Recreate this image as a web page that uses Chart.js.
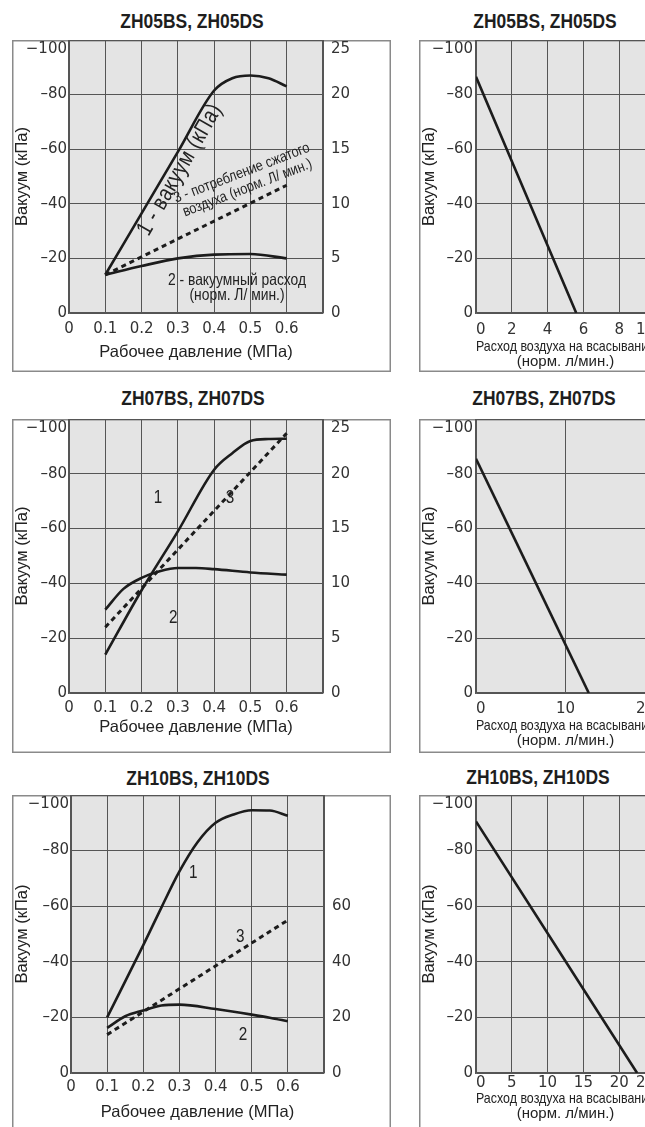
<!DOCTYPE html>
<html><head><meta charset="utf-8">
<script src="https://cdn.jsdelivr.net/npm/chart.js@4.4.0/dist/chart.umd.min.js"></script>
<style>
html,body{margin:0;padding:0;background:#fff;width:645px;height:1127px;overflow:hidden;position:relative;}
.ttl{position:absolute;width:300px;text-align:center;font:bold 21px "Liberation Sans",Arial,sans-serif;color:#1e1e1e;line-height:24px;white-space:nowrap;transform:scaleX(0.83);transform-origin:50% 50%;}
.pn{position:absolute;}
</style></head><body>
<div class="ttl" style="left:42px;top:9px">ZH05BS, ZH05DS</div>
<div class="ttl" style="left:395px;top:9px">ZH05BS, ZH05DS</div>
<div class="ttl" style="left:43px;top:386px">ZH07BS, ZH07DS</div>
<div class="ttl" style="left:394px;top:386px">ZH07BS, ZH07DS</div>
<div class="ttl" style="left:48px;top:766px">ZH10BS, ZH10DS</div>
<div class="ttl" style="left:388px;top:765px">ZH10BS, ZH10DS</div>

<div class="pn" style="left:12px;top:40px;width:379px;height:332px"><canvas id="c05a"></canvas></div>
<div class="pn" style="left:419px;top:40px;width:300px;height:332px"><canvas id="c05b"></canvas></div>
<div class="pn" style="left:12px;top:419px;width:379px;height:334px"><canvas id="c07a"></canvas></div>
<div class="pn" style="left:419px;top:419px;width:300px;height:334px"><canvas id="c07b"></canvas></div>
<div class="pn" style="left:12px;top:795px;width:379px;height:345px"><canvas id="c10a"></canvas></div>
<div class="pn" style="left:419px;top:795px;width:300px;height:345px"><canvas id="c10b"></canvas></div>

<script>
// ---------- data ----------
// ZH05BS, ZH05DS
const pVac05 = [0.1, 0.2, 0.3, 0.4, 0.45, 0.5, 0.55, 0.6];
const vac05 = [-14, -36.5, -59, -81.5, -86, -87, -86, -83];
const pFlow05 = [0.1, 0.2, 0.3, 0.4, 0.5, 0.6];
const flow05 = [3.5, 4.3, 5.0, 5.35, 5.4, 5.0];
const pCons05 = [0.1, 0.6];
const cons05 = [3.5, 11.7];
const qSuc05 = [0, 5.6];
const qVac05 = [-86.5, 0];

// ZH07BS, ZH07DS
const pVac07 = [0.1, 0.2, 0.3, 0.4, 0.45, 0.5, 0.55, 0.6];
const vac07 = [-14, -37.5, -59, -81.5, -87.5, -92, -92.7, -92.8];
const pFlow07 = [0.1, 0.15, 0.2, 0.25, 0.3, 0.35, 0.4, 0.5, 0.6];
const flow07 = [7.6, 9.5, 10.5, 11.1, 11.4, 11.4, 11.3, 11.0, 10.8];
const pCons07 = [0.1, 0.6];
const cons07 = [6.0, 23.7];
const qSuc07 = [0, 12.6];
const qVac07 = [-85.5, 0];

// ZH10BS, ZH10DS
const pVac10 = [0.1, 0.2, 0.25, 0.3, 0.35, 0.4, 0.45, 0.5, 0.55, 0.6];
const vac10 = [-20, -46, -59.5, -72.5, -83, -90, -93, -94.5, -94.4, -92.5];
const pFlow10 = [0.1, 0.15, 0.2, 0.25, 0.3, 0.4, 0.5, 0.55, 0.6];
const flow10 = [16.2, 20.4, 22.5, 24.3, 24.6, 23.0, 21.0, 19.9, 18.6];
const pCons10 = [0.1, 0.6];
const cons10 = [13.8, 55];
const qSuc10 = [0, 22.5];
const qVac10 = [-90.5, 0];

// ticks / labels
const vacTicks = [-100, -80, -60, -40, -20, 0];
const pressureTicks = [0, 0.1, 0.2, 0.3, 0.4, 0.5, 0.6];
const titleVac = 'Вакуум (кПа)';
const titlePress = 'Рабочее давление (МПа)';
const titleSuction = ['Расход воздуха на всасывание', '(норм. л/мин.)'];

// ---------- styling ----------
const SANS = '"Liberation Sans", Arial, sans-serif';
const TICKF = {family: '"DejaVu Sans", sans-serif', size: 15, lineHeight: 1.2};
const INK = '#1c1c1c';
const TXT = '#333';
const GRID = '#555';

function xy(xs, ys) { return xs.map((x, i) => ({x: x, y: ys[i]})); }
function fmtP(v) { const r = Math.round(v * 10) / 10; return r > 0.6 ? '' : (r === 0 ? '0' : r.toFixed(1)); }
function fmtVac(v) { return v === -100 ? ['', '\u2212100'] : (v === 0 ? '0' : '\u2013' + Math.abs(v)); }
function noPad(s) { s.paddingTop = 0; s.paddingBottom = 0; s.paddingLeft = 0; s.paddingRight = 0; }

const panelPlugin = {
  id: 'panel',
  beforeDraw(chart) {
    const {ctx, chartArea: a, width, height} = chart;
    ctx.save();
    ctx.fillStyle = '#e4e4e4';
    ctx.fillRect(a.left, a.top, a.right - a.left, a.bottom - a.top);
    ctx.strokeStyle = '#8a8a8a';
    ctx.lineWidth = 1.5;
    ctx.strokeRect(0.75, 0.75, width - 1.5, height - 1.5);
    ctx.restore();
  },
  afterDatasetsDraw(chart, args, opts) {
    const items = (opts && opts.notes) || [];
    const ctx = chart.ctx, sx = chart.scales.x, sy = chart.scales.y;
    items.forEach(n => {
      const px = sx.getPixelForValue(n.x), py = sy.getPixelForValue(n.y);
      ctx.save();
      ctx.translate(px, py);
      ctx.rotate((n.rot || 0) * Math.PI / 180);
      ctx.scale(n.sx || 0.85, 1);
      ctx.font = (n.size || 16) + 'px ' + SANS;
      if (n.ls) ctx.letterSpacing = n.ls + 'px';
      ctx.fillStyle = '#222';
      ctx.textAlign = 'center';
      ctx.textBaseline = 'middle';
      const lh = n.lh || 16;
      n.lines.forEach((t, i) => ctx.fillText(t, 0, (i - (n.lines.length - 1) / 2) * lh));
      ctx.restore();
    });
  }
};

function lineDs(data, axis, dashed) {
  return {data: data, yAxisID: axis, borderColor: INK, borderWidth: dashed ? 3 : 2.6,
    borderDash: dashed ? [5, 4] : [], pointRadius: 0, fill: false,
    cubicInterpolationMode: dashed ? 'default' : 'monotone', tension: 0};
}

function yAxisVac(width, pad) {
  return {
    type: 'linear', position: 'left', min: -100, max: 0, reverse: true,
    afterBuildTicks: s => { s.ticks = vacTicks.map(v => ({value: v})); },
    ticks: {callback: fmtVac, font: TICKF, color: TXT, padding: pad, autoSkip: false},
    grid: {color: GRID, lineWidth: 1, drawTicks: false},
    border: {color: GRID, width: 1.2},
    title: {display: true, text: titleVac, color: '#222', font: {family: SANS, size: 16.5, lineHeight: 1}, padding: {top: 2, bottom: 0}},
    afterFit: s => { s.width = width; noPad(s); }
  };
}

function leftChart(id, o) {
  return new Chart(document.getElementById(id), {
    type: 'line',
    data: {datasets: [
      lineDs(xy(o.pv, o.vac), 'y', false),
      lineDs(xy(o.pf, o.flow), 'y1', false),
      lineDs(xy(o.pc, o.cons), 'y1', true)
    ]},
    options: {
      responsive: true, maintainAspectRatio: false, animation: false, events: [],
      layout: {padding: 0, autoPadding: false},
      plugins: {legend: {display: false}, tooltip: {enabled: false}, panel: {notes: o.notes}},
      scales: {
        x: {
          type: 'linear', min: 0, max: 0.7,
          afterBuildTicks: s => { s.ticks = pressureTicks.concat([0.7]).map(v => ({value: v})); },
          ticks: {callback: fmtP, font: TICKF, color: TXT, padding: o.tp, autoSkip: false, maxRotation: 0},
          grid: {color: GRID, lineWidth: 1, drawTicks: false},
          border: {color: GRID, width: 1.2},
          title: {display: true, text: titlePress, color: '#222', font: {family: SANS, size: 16.5, lineHeight: 1}, padding: {top: 0, bottom: o.tb}},
          afterFit: s => { s.height = o.xh; noPad(s); }
        },
        y: yAxisVac(o.yw, 2),
        y1: {
          type: 'linear', position: 'right', min: 0, max: o.rmax,
          afterBuildTicks: s => { s.ticks = o.rticks.map(v => ({value: v})); },
          ticks: {callback: o.rfmt, font: TICKF, color: TXT, padding: 8, autoSkip: false},
          grid: {display: false, drawTicks: false},
          border: {color: GRID, width: 1.2},
          afterFit: s => { s.width = o.rw; noPad(s); }
        }
      }
    },
    plugins: [panelPlugin]
  });
}

function rightChart(id, o) {
  return new Chart(document.getElementById(id), {
    type: 'line',
    data: {datasets: [lineDs(xy(o.q, o.v), 'y', false)]},
    options: {
      responsive: true, maintainAspectRatio: false, animation: false, events: [],
      layout: {padding: {left: 0, top: 0, bottom: 0, right: 64}, autoPadding: false},
      plugins: {legend: {display: false}, tooltip: {enabled: false}},
      scales: {
        x: {
          type: 'linear', min: 0, max: o.xmax,
          afterBuildTicks: s => { s.ticks = o.xticks.map(v => ({value: v})); },
          ticks: {font: TICKF, color: TXT, padding: o.tp, align: 'inner', autoSkip: false, maxRotation: 0},
          grid: {color: GRID, lineWidth: 1, drawTicks: false},
          border: {color: GRID, width: 1.2},
          title: {display: true, text: titleSuction, color: '#222', font: {family: SANS, size: 15, lineHeight: o.tlh}, padding: {top: 0, bottom: o.tb}},
          afterFit: s => { s.height = o.xh; noPad(s); }
        },
        y: yAxisVac(57, 3)
      }
    },
    plugins: [panelPlugin]
  });
}

const rTicks25 = [0, 5, 10, 15, 20, 25];
const rTicks100 = [0, 20, 40, 60, 80, 100];
const fmt25 = v => v === 25 ? ['', '25'] : String(v);
const fmt100 = v => v <= 60 ? String(v) : '';

leftChart('c05a', {pv: pVac05, vac: vac05, pf: pFlow05, flow: flow05, pc: pCons05, cons: cons05,
  rmax: 25, rticks: rTicks25, rfmt: fmt25, yw: 57, rw: 68, xh: 59, tp: 7, tb: 11.5,
  notes: [
    {x: 0.306, y: -52.5, rot: -60, lines: ['1 - вакуум (кПа)'], size: 23, sx: 0.82, ls: 0.8},
    {x: 0.484, y: -48.5, rot: -21, lines: ['3 - потребление сжатого', 'воздуха (норм. Л/ мин.)'], size: 15, lh: 16, sx: 0.85},
    {x: 0.463, y: -9.3, rot: 0, lines: ['2 - вакуумный расход', '(норм. Л/ мин.)'], size: 16.5, lh: 15, sx: 0.84}
  ]});
rightChart('c05b', {q: qSuc05, v: qVac05, xmax: 10, xticks: [0, 2, 4, 6, 8, 10], tp: 8, tb: 2.5, tlh: 1, xh: 59});

leftChart('c07a', {pv: pVac07, vac: vac07, pf: pFlow07, flow: flow07, pc: pCons07, cons: cons07,
  rmax: 25, rticks: rTicks25, rfmt: fmt25, yw: 57, rw: 68, xh: 60, tp: 6, tb: 17.5,
  notes: [
    {x: 0.245, y: -71.3, lines: ['1'], size: 18},
    {x: 0.444, y: -71.3, lines: ['3'], size: 18},
    {x: 0.287, y: -27.3, lines: ['2'], size: 18}
  ]});
rightChart('c07b', {q: qSuc07, v: qVac07, xmax: 20, xticks: [0, 10, 20], tp: 7, tb: 4, tlh: 1.05, xh: 60});

leftChart('c10a', {pv: pVac10, vac: vac10, pf: pFlow10, flow: flow10, pc: pCons10, cons: cons10,
  rmax: 100, rticks: rTicks100, rfmt: fmt100, yw: 59, rw: 67, xh: 67, tp: 5.5, tb: 19.5,
  notes: [
    {x: 0.338, y: -71.9, lines: ['1'], size: 18},
    {x: 0.468, y: -48.9, lines: ['3'], size: 18},
    {x: 0.476, y: -13.7, lines: ['2'], size: 18}
  ]});
rightChart('c10b', {q: qSuc10, v: qVac10, xmax: 25, xticks: [0, 5, 10, 15, 20, 25], tp: 1.5, tb: 18, tlh: 1.05, xh: 67});
</script>
</body></html>
